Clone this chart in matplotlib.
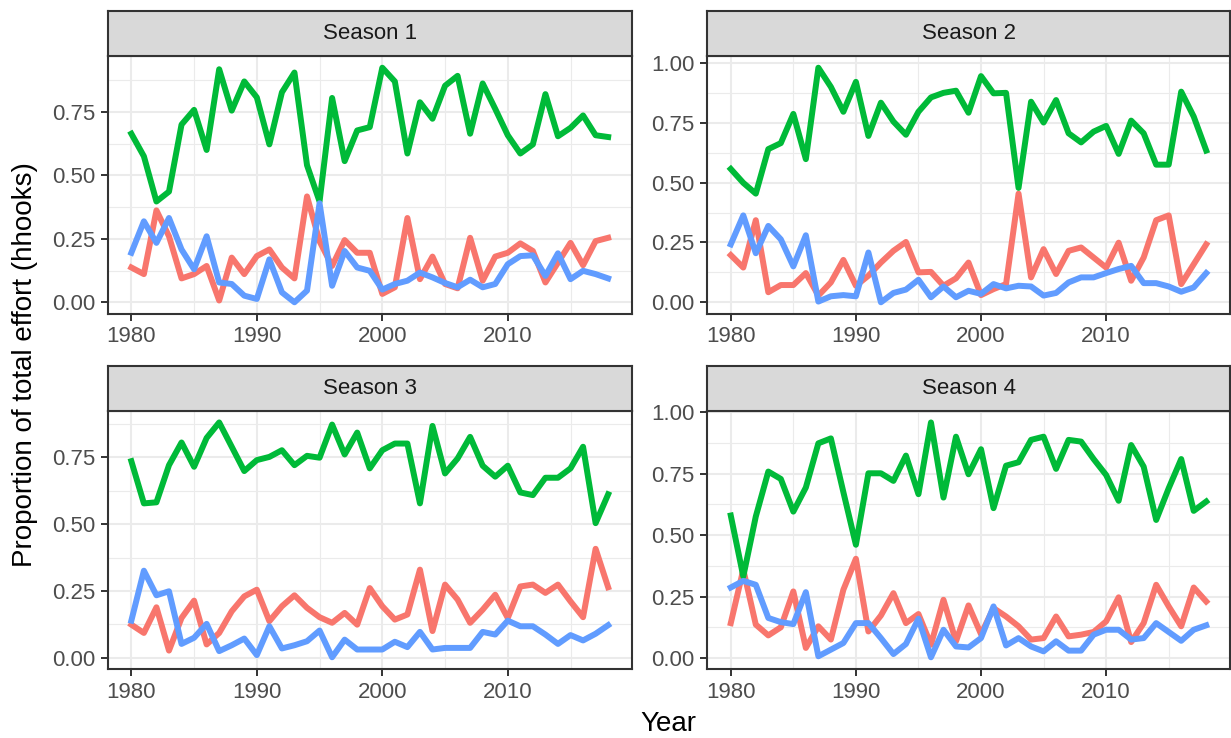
import matplotlib
matplotlib.use("Agg")
import matplotlib.pyplot as plt
from matplotlib.ticker import MultipleLocator, FormatStrFormatter
import numpy as np

plt.rcParams['font.family'] = ['Liberation Sans', 'DejaVu Sans']

years = list(range(1980, 2019))

# proportion of total effort per group, one list per season
s1_red = [0.137, 0.111, 0.362, 0.26, 0.094, 0.111, 0.143, 0.007, 0.176, 0.111,
          0.182, 0.208, 0.137, 0.094, 0.417, 0.24, 0.143, 0.245, 0.195, 0.195,
          0.033, 0.059, 0.332, 0.091, 0.18, 0.072, 0.055, 0.254, 0.085, 0.18,
          0.195, 0.232, 0.202, 0.078, 0.156, 0.234, 0.146, 0.241, 0.254]
s1_green = [0.664, 0.575, 0.397, 0.436, 0.70, 0.758, 0.60, 0.918, 0.755, 0.87,
            0.807, 0.622, 0.827, 0.905, 0.54, 0.397, 0.805, 0.556, 0.677, 0.69,
            0.924, 0.87, 0.586, 0.788, 0.723, 0.853, 0.892, 0.664, 0.862, 0.762,
            0.658, 0.586, 0.622, 0.82, 0.654, 0.687, 0.736, 0.658, 0.651]
s1_blue = [0.195, 0.319, 0.234, 0.332, 0.208, 0.13, 0.26, 0.078, 0.072, 0.026,
           0.013, 0.169, 0.039, 0.0, 0.046, 0.39, 0.065, 0.202, 0.137, 0.124,
           0.05, 0.072, 0.085, 0.117, 0.098, 0.076, 0.059, 0.089, 0.059, 0.072,
           0.15, 0.182, 0.185, 0.104, 0.193, 0.091, 0.124, 0.111, 0.094]

s2_red = [0.197, 0.145, 0.343, 0.042, 0.072, 0.072, 0.122, 0.028, 0.083, 0.177,
          0.069, 0.111, 0.166, 0.215, 0.252, 0.125, 0.127, 0.069, 0.10, 0.166,
          0.03, 0.055, 0.076, 0.454, 0.104, 0.222, 0.118, 0.215, 0.229, 0.187,
          0.145, 0.249, 0.09, 0.187, 0.343, 0.363, 0.076, 0.159, 0.242]
s2_green = [0.557, 0.499, 0.454, 0.64, 0.665, 0.787, 0.598, 0.98, 0.90, 0.796,
            0.921, 0.695, 0.834, 0.755, 0.70, 0.796, 0.856, 0.875, 0.884, 0.792,
            0.945, 0.873, 0.875, 0.478, 0.838, 0.751, 0.845, 0.706, 0.668, 0.713,
            0.737, 0.62, 0.759, 0.706, 0.575, 0.575, 0.88, 0.776, 0.634]
s2_blue = [0.242, 0.363, 0.205, 0.319, 0.263, 0.15, 0.28, 0.003, 0.025, 0.03,
           0.025, 0.208, 0.0, 0.039, 0.053, 0.094, 0.021, 0.066, 0.021, 0.048,
           0.035, 0.076, 0.058, 0.069, 0.066, 0.028, 0.039, 0.083, 0.104, 0.104,
           0.122, 0.139, 0.152, 0.08, 0.08, 0.066, 0.044, 0.062, 0.122]

s3_red = [0.124, 0.093, 0.189, 0.027, 0.149, 0.214, 0.05, 0.093, 0.174, 0.23,
          0.255, 0.137, 0.193, 0.234, 0.187, 0.152, 0.131, 0.168, 0.124, 0.261,
          0.193, 0.143, 0.162, 0.33, 0.10, 0.274, 0.218, 0.131, 0.18, 0.236,
          0.149, 0.267, 0.274, 0.243, 0.274, 0.211, 0.152, 0.408, 0.264]
s3_green = [0.736, 0.578, 0.582, 0.721, 0.806, 0.715, 0.823, 0.881, 0.79, 0.699,
            0.74, 0.752, 0.777, 0.721, 0.756, 0.749, 0.873, 0.761, 0.843, 0.709,
            0.777, 0.802, 0.802, 0.578, 0.868, 0.69, 0.746, 0.827, 0.719, 0.678,
            0.719, 0.619, 0.609, 0.674, 0.674, 0.709, 0.79, 0.504, 0.612]
s3_blue = [0.139, 0.326, 0.234, 0.249, 0.052, 0.075, 0.127, 0.025, 0.047, 0.072,
           0.01, 0.118, 0.035, 0.047, 0.062, 0.102, 0.002, 0.068, 0.031, 0.031,
           0.031, 0.06, 0.04, 0.097, 0.031, 0.037, 0.037, 0.037, 0.097, 0.087,
           0.139, 0.118, 0.118, 0.087, 0.052, 0.085, 0.065, 0.09, 0.122]

s4_red = [0.142, 0.36, 0.136, 0.092, 0.125, 0.271, 0.041, 0.129, 0.075, 0.278,
          0.404, 0.108, 0.173, 0.264, 0.142, 0.179, 0.054, 0.237, 0.068, 0.214,
          0.097, 0.203, 0.169, 0.129, 0.075, 0.081, 0.169, 0.088, 0.095, 0.106,
          0.149, 0.247, 0.065, 0.142, 0.298, 0.21, 0.129, 0.287, 0.23]
s4_green = [0.58, 0.332, 0.576, 0.759, 0.729, 0.596, 0.694, 0.874, 0.894, 0.675,
            0.461, 0.752, 0.752, 0.721, 0.824, 0.667, 0.959, 0.653, 0.901, 0.748,
            0.85, 0.61, 0.783, 0.797, 0.888, 0.901, 0.77, 0.888, 0.881, 0.81,
            0.745, 0.64, 0.867, 0.779, 0.562, 0.691, 0.81, 0.599, 0.637]
s4_blue = [0.287, 0.314, 0.298, 0.163, 0.146, 0.138, 0.268, 0.007, 0.034, 0.061,
           0.142, 0.142, 0.081, 0.016, 0.057, 0.16, 0.003, 0.115, 0.047, 0.043,
           0.081, 0.21, 0.051, 0.081, 0.047, 0.027, 0.068, 0.03, 0.03, 0.095,
           0.115, 0.115, 0.075, 0.081, 0.142, 0.106, 0.07, 0.115, 0.133]

seasons = ["Season 1", "Season 2", "Season 3", "Season 4"]
season_data = [(s1_red, s1_green, s1_blue), (s2_red, s2_green, s2_blue),
               (s3_red, s3_green, s3_blue), (s4_red, s4_green, s4_blue)]
colors = ["#F8766D", "#00BA38", "#619CFF"]

W, H = 1231, 738
fig = plt.figure(figsize=(W / 100, H / 100), dpi=100)

# panel boxes in pixels: left, right, top (below strip), bottom
lefts = [107.5, 707]
rights = [632, 1230]
tops = [56, 410.7]
bottoms = [314, 669]
strip_h = 45
dark = "#333333"

for k, name in enumerate(seasons):
    r, c = divmod(k, 2)
    l, rt, t, b = lefts[c], rights[c], tops[r], bottoms[r]
    ax = fig.add_axes([l / W, 1 - b / H, (rt - l) / W, (b - t) / H])
    for vals, col in zip(season_data[k], colors):
        ax.plot(years, vals, color=col, lw=4.3, solid_joinstyle='round', zorder=3)
    ax.margins(x=0.05, y=0.05)
    ax.xaxis.set_major_locator(MultipleLocator(10))
    ax.xaxis.set_minor_locator(MultipleLocator(5))
    ax.yaxis.set_major_locator(MultipleLocator(0.25))
    ax.yaxis.set_minor_locator(MultipleLocator(0.125))
    ax.yaxis.set_major_formatter(FormatStrFormatter('%.2f'))
    ax.grid(which='major', color="#EBEBEB", lw=1.5, zorder=0)
    ax.grid(which='minor', color="#EBEBEB", lw=0.8, zorder=0)
    ax.set_axisbelow(True)
    for sp in ax.spines.values():
        sp.set_color(dark)
        sp.set_linewidth(1.5)
    ax.tick_params(which='major', length=5, width=1.4, color=dark,
                   labelsize=16, labelcolor="#4D4D4D", pad=4)
    ax.tick_params(which='minor', length=0)

    # facet strip
    sax = fig.add_axes([l / W, 1 - t / H, (rt - l) / W, strip_h / H])
    sax.set_facecolor("#D9D9D9")
    sax.set_xticks([])
    sax.set_yticks([])
    for sp in sax.spines.values():
        sp.set_color(dark)
        sp.set_linewidth(1.5)
    sax.text(0.5, 0.5, name, ha='center', va='center', fontsize=16,
             color="#1A1A1A", transform=sax.transAxes)

fig.text(668 / W, 1 - 724 / H, "Year", ha='center', va='center', fontsize=20)
fig.text(25 / W, 1 - 365 / H, "Proportion of total effort (hhooks)",
         ha='center', va='center', rotation=90, fontsize=20)

fig.savefig("out.png", dpi=100, facecolor="white")
